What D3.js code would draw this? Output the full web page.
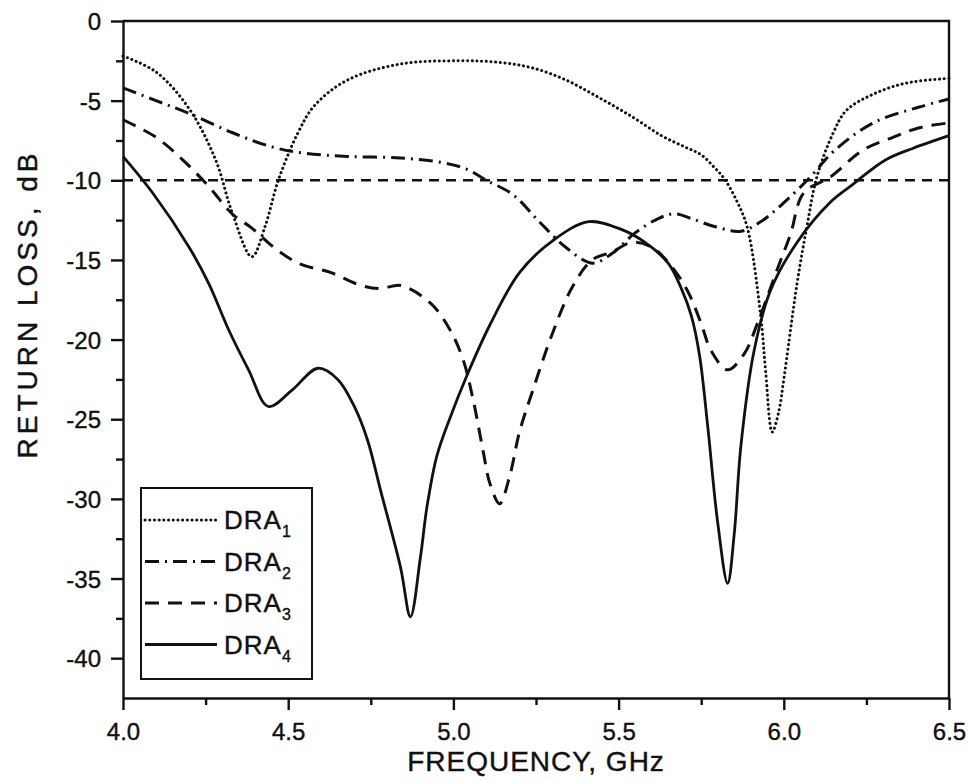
<!DOCTYPE html>
<html>
<head>
<meta charset="utf-8">
<script src="https://cdn.jsdelivr.net/npm/d3@7"></script>
<style>
  body { margin: 0; background: #fff; }
  svg { font-family: 'Liberation Sans', Arial, sans-serif; }
  .axis path, .axis line { stroke: #111; stroke-width: 2.4px; }
  .axis text { font-size: 24px; fill: #111; stroke: #111; stroke-width: 0.4px; }
  .frame { fill: none; stroke: #111; stroke-width: 2.4px; }
  .curve { fill: none; stroke: #111; }
  .title { fill: #111; stroke: #111; stroke-width: 0.4px; }
</style>
</head>
<body>
<div id="chart"></div>
<script>
// frequency (GHz) and return loss (dB)
const dra1Freq = [4.0, 4.1, 4.2, 4.28, 4.33, 4.39, 4.43, 4.47, 4.53, 4.58, 4.68, 4.84, 5.02, 5.14, 5.24, 5.34, 5.44, 5.54, 5.63, 5.70, 5.75, 5.79, 5.82, 5.86, 5.89, 5.93, 5.945, 5.965, 5.985, 6.0, 6.04, 6.07, 6.1, 6.15, 6.19, 6.27, 6.37, 6.5];
const dra1Loss = [-2.2, -3.2, -5.5, -8.7, -12.0, -14.8, -12.9, -10.0, -7.0, -5.3, -3.7, -2.7, -2.5, -2.6, -2.95, -3.7, -4.8, -6.0, -7.2, -7.9, -8.4, -9.2, -9.9, -11.4, -13.0, -18.5, -22.0, -25.8, -24.5, -22.5, -16.5, -12.9, -9.8, -7.0, -5.6, -4.6, -3.9, -3.6];

const dra2Freq = [4.0, 4.1, 4.2, 4.33, 4.45, 4.55, 4.68, 4.84, 4.97, 5.04, 5.10, 5.18, 5.26, 5.34, 5.42, 5.48, 5.55, 5.62, 5.67, 5.72, 5.79, 5.87, 5.93, 5.99, 6.08, 6.15, 6.27, 6.41, 6.5];
const dra2Loss = [-4.2, -5.0, -5.8, -7.0, -7.9, -8.3, -8.5, -8.6, -8.9, -9.3, -10.0, -10.9, -12.6, -14.2, -15.2, -14.6, -13.3, -12.4, -12.1, -12.4, -12.9, -13.2, -12.6, -11.6, -9.8, -8.2, -6.4, -5.4, -4.9];

const dra3Freq = [4.0, 4.1, 4.18, 4.26, 4.33, 4.39, 4.45, 4.53, 4.63, 4.72, 4.78, 4.84, 4.93, 4.99, 5.03, 5.06, 5.09, 5.11, 5.14, 5.17, 5.20, 5.24, 5.30, 5.36, 5.42, 5.48, 5.54, 5.60, 5.66, 5.71, 5.75, 5.78, 5.83, 5.88, 5.92, 5.98, 6.02, 6.06, 6.14, 6.24, 6.33, 6.41, 6.5];
const dra3Loss = [-6.2, -7.3, -8.7, -10.4, -12.1, -13.0, -14.1, -15.2, -15.8, -16.6, -16.8, -16.6, -17.7, -19.4, -21.3, -23.8, -27.0, -29.0, -30.3, -28.6, -25.8, -23.2, -19.6, -16.7, -15.0, -14.5, -13.9, -14.2, -15.4, -17.0, -19.0, -20.7, -21.9, -20.9, -19.0, -15.6, -13.4, -10.8, -9.8, -8.1, -7.3, -6.7, -6.4];

const dra4Freq = [4.0, 4.09, 4.2, 4.26, 4.32, 4.38, 4.44, 4.51, 4.59, 4.65, 4.70, 4.74, 4.78, 4.84, 4.87, 4.90, 4.92, 4.95, 4.99, 5.04, 5.11, 5.20, 5.30, 5.41, 5.51, 5.58, 5.65, 5.69, 5.72, 5.745, 5.77, 5.80, 5.83, 5.85, 5.87, 5.91, 5.96, 6.04, 6.14, 6.20, 6.31, 6.39, 6.5];
const dra4Loss = [-8.5, -10.8, -14.2, -16.5, -19.4, -21.9, -24.2, -23.2, -21.8, -22.5, -24.2, -26.3, -29.5, -34.3, -37.4, -33.7, -30.5, -27.3, -24.9, -22.3, -19.1, -15.8, -13.8, -12.6, -13.1, -13.9, -15.2, -16.8, -18.5, -21.0, -25.5, -31.5, -35.3, -32.2, -26.7, -20.7, -16.9, -13.9, -11.4, -10.4, -8.7, -8.0, -7.2];

const seriesNames = ["DRA1", "DRA2", "DRA3", "DRA4"];
const refLevel = -10;
const xTicks = [4.0, 4.5, 5.0, 5.5, 6.0, 6.5];
const yTicks = [0, -5, -10, -15, -20, -25, -30, -35, -40];

const width = 968, height = 781;
const margin = {top: 21, right: 16, bottom: 82, left: 123};

const svg = d3.select("#chart").append("svg")
    .attr("width", width)
    .attr("height", height);

const x = d3.scaleLinear().domain([4.0, 6.5]).range([margin.left, width - margin.right - 3]);
const y = d3.scaleLinear().domain([-42.5, 0]).range([height - margin.bottom - 1, margin.top]);

// plain hyphen instead of unicode minus, like the original
const fmtY = d => d3.format("d")(d).replace("\u2212", "-");

// minor ticks first
const xMinor = d3.range(4.25, 6.5, 0.5);
const yMinor = d3.range(-2.5, -42.5, -5);

svg.append("g")
    .attr("class", "axis")
    .attr("transform", "translate(0," + y(-42.5) + ")")
    .call(d3.axisBottom(x).tickValues(xMinor).tickSize(7).tickFormat(""))
    .call(g => g.select(".domain").remove());

svg.append("g")
    .attr("class", "axis")
    .attr("transform", "translate(" + x(4.0) + ",0)")
    .call(d3.axisLeft(y).tickValues(yMinor).tickSize(7).tickFormat(""))
    .call(g => g.select(".domain").remove());

svg.append("g")
    .attr("class", "axis")
    .attr("transform", "translate(0," + y(-42.5) + ")")
    .call(d3.axisBottom(x).tickValues(xTicks).tickSize(12).tickPadding(13).tickSizeOuter(0).tickFormat(d3.format(".1f")));

svg.append("g")
    .attr("class", "axis")
    .attr("transform", "translate(" + x(4.0) + ",0)")
    .call(d3.axisLeft(y).tickValues(yTicks).tickSize(12).tickPadding(10).tickSizeOuter(0).tickFormat(fmtY))
    .call(g => g.selectAll("text").attr("dy", "0.36em"));

// top and right frame
svg.append("path")
    .attr("class", "frame")
    .attr("d", "M" + x(4.0) + "," + y(0) + "H" + x(6.5) + "V" + y(-42.5));

// -10 dB reference line
svg.append("line")
    .attr("x1", x(4.0)).attr("x2", x(6.5))
    .attr("y1", y(refLevel)).attr("y2", y(refLevel))
    .attr("stroke", "#111")
    .attr("stroke-width", 2.4)
    .attr("stroke-dasharray", "10,7");

const styles = [
    {dash: "0.1,4.6", w: 3, cap: "round"},
    {dash: "14,6,2,6", w: 3, cap: "butt"},
    {dash: "14,9", w: 3, cap: "butt"},
    {dash: null, w: 2.8, cap: "butt"}
];

const allFreq = [dra1Freq, dra2Freq, dra3Freq, dra4Freq];
const allLoss = [dra1Loss, dra2Loss, dra3Loss, dra4Loss];

const line = d3.line()
    .x(d => x(d[0]))
    .y(d => y(d[1]))
    .curve(d3.curveCatmullRom.alpha(0.5));

allFreq.forEach((fr, i) => {
    const pts = fr.map((f, j) => [f, allLoss[i][j]]);
    svg.append("path")
        .datum(pts)
        .attr("class", "curve")
        .attr("d", line)
        .attr("stroke-width", styles[i].w)
        .attr("stroke-linecap", styles[i].cap)
        .attr("stroke-dasharray", styles[i].dash);
});

// legend
const legend = svg.append("g");
legend.append("rect")
    .attr("x", 141).attr("y", 488)
    .attr("width", 171).attr("height", 191)
    .attr("fill", "#fff")
    .attr("stroke", "#111")
    .attr("stroke-width", 2);

seriesNames.forEach((name, i) => {
    const ly = 520 + i * 41.5;
    legend.append("line")
        .attr("x1", 145).attr("x2", 217)
        .attr("y1", ly).attr("y2", ly)
        .attr("stroke", "#111")
        .attr("stroke-width", styles[i].w)
        .attr("stroke-linecap", styles[i].cap)
        .attr("stroke-dasharray", styles[i].dash);
    const t = legend.append("text")
        .attr("class", "title")
        .attr("x", 224).attr("y", ly + 9)
        .attr("font-size", 26)
        .attr("letter-spacing", 1)
        .text(name.slice(0, 3));
    t.append("tspan")
        .attr("font-size", 16)
        .attr("dy", 8)
        .text(name.slice(3));
});

// axis titles
svg.append("text")
    .attr("class", "title")
    .attr("x", (x(4.0) + x(6.5)) / 2)
    .attr("y", 771)
    .attr("text-anchor", "middle")
    .attr("font-size", 28)
    .attr("letter-spacing", 1)
    .text("FREQUENCY, GHz");

svg.append("text")
    .attr("class", "title")
    .attr("transform", "translate(37,304) rotate(-90)")
    .attr("text-anchor", "middle")
    .attr("font-size", 28)
    .attr("letter-spacing", 4)
    .text("RETURN LOSS, dB");
</script>
</body>
</html>
